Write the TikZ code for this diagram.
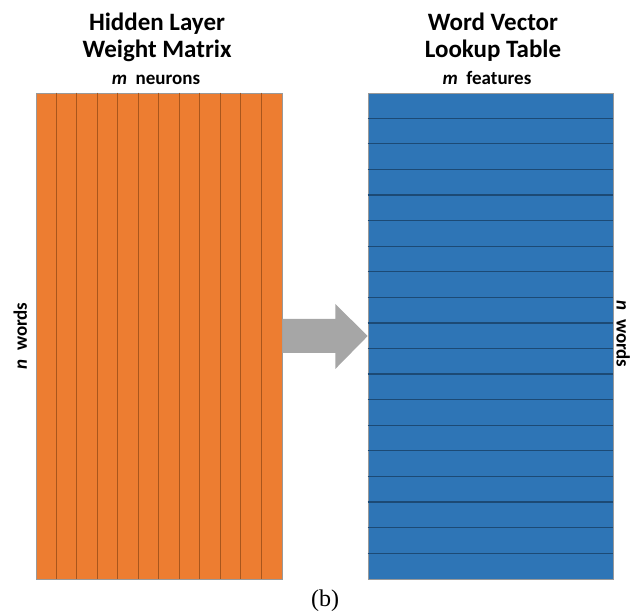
\documentclass[tikz,border=0pt]{standalone}
\usepackage{fontspec}
\setmainfont{Carlito}
\newfontfamily\captionfont{Liberation Serif}
\usetikzlibrary{calc,positioning}

\definecolor{weightorange}{HTML}{ED7D31}
\definecolor{stripeorange}{HTML}{A9561C}
\definecolor{tableblue}{HTML}{2E75B6}
\definecolor{rowblue}{HTML}{1C4A75}
\definecolor{arrowgray}{HTML}{A6A6A6}

\begin{document}
\begin{tikzpicture}[x=1pt,y=-1pt,
	block/.style={draw=gray!80,line width=0.6pt,inner sep=0pt,minimum width=246pt,minimum height=486pt},
	title/.style={font=\fontsize{25}{27}\selectfont\bfseries,align=center},
	dimlabel/.style={font=\fontsize{19}{21}\selectfont\bfseries,inner sep=0pt}]
	
	\useasboundingbox (0,0) rectangle (630,612);
	
	% Weight matrix
	\node[block,fill=weightorange] (hidden) at (159,336) {};
	\foreach \i in {1,...,11}
		\draw[stripeorange,line width=1.2pt] ($(hidden.north west)+(\i*20.5,0)$) -- ($(hidden.south west)+(\i*20.5,0)$);
	\node[title] (hiddentitle) at (157,37) {Hidden Layer\\Weight Matrix};
	\node[dimlabel,anchor=base] (neurons) at (156,85) {\textit{m}\ \ neurons};
	\node[dimlabel,anchor=base,rotate=90] (hiddenwords) at (27,336) {\textit{n}\ \ words};
	
	% Lookup table
	\node[block,fill=tableblue,minimum width=245pt] (lookup) at (490.5,336) {};
	\foreach \j in {1,...,18}
		\draw[rowblue,line width=1.2pt] ($(lookup.north west)+(0,\j*25.58)$) -- ($(lookup.north east)+(0,\j*25.58)$);
	\node[title] (lookuptitle) at (493,37) {Word Vector\\Lookup Table};
	\node[dimlabel,anchor=base] (features) at (487,85) {\textit{m}\ \ features};
	\node[dimlabel,anchor=base,rotate=-90] (lookupwords) at (616.5,334) {\textit{n}\ \ words};
	
	% Arrow between the two
	\fill[arrowgray] ($(hidden.east)+(0,-17)$) -- ($(hidden.east)+(53,-17)$) -- ($(hidden.east)+(53,-32)$)
		-- (lookup.west) -- ($(hidden.east)+(53,33)$) -- ($(hidden.east)+(53,17)$) -- ($(hidden.east)+(0,17)$) -- cycle;
	
	\node[font=\captionfont\fontsize{24}{26}\selectfont,anchor=base] (caption) at (325,606) {(b)};
	
\end{tikzpicture}
\end{document}
